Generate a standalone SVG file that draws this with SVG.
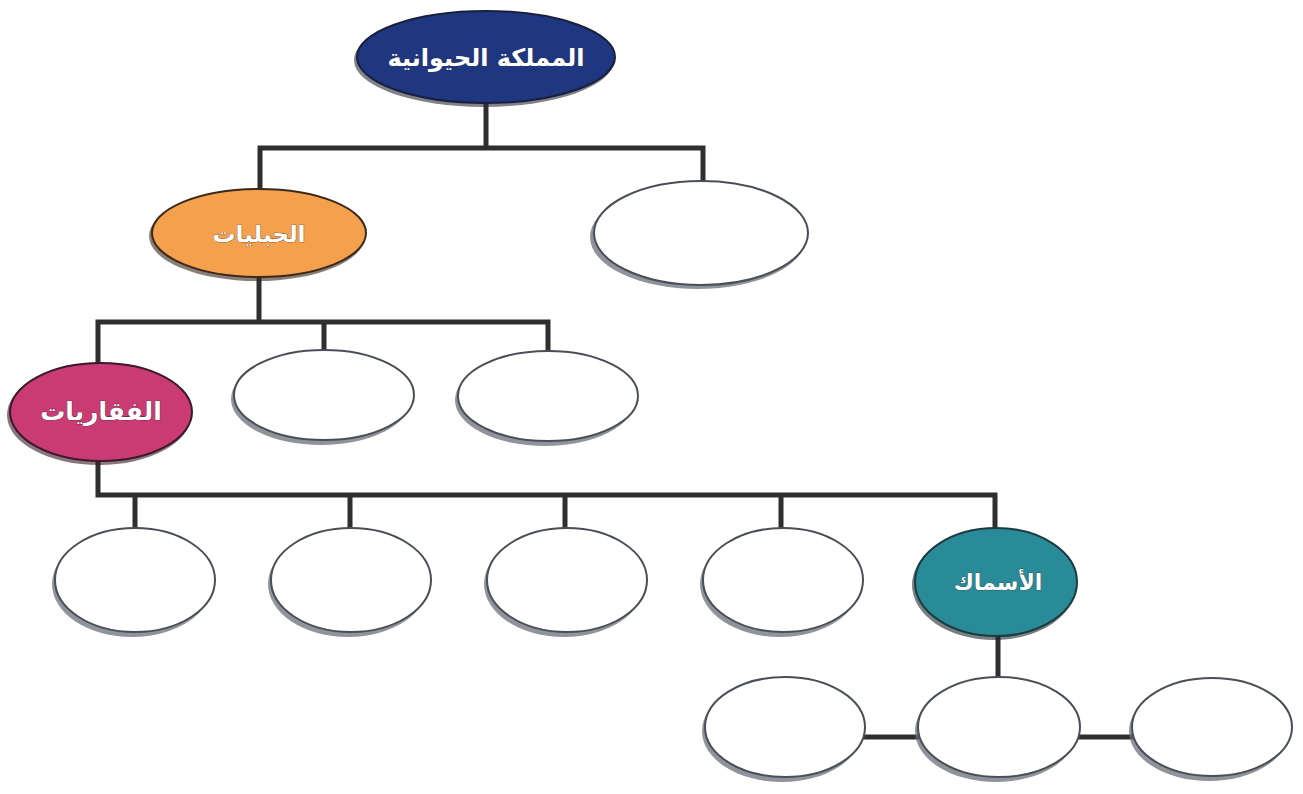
<svg xmlns="http://www.w3.org/2000/svg" width="1303" height="794" viewBox="0 0 1303 794">
<defs>
<style>
.bg{fill:#ffffff}
.conn{stroke:#2f2f2f;stroke-width:5;fill:none;stroke-linecap:square}
.shadow{fill:#6a6f7a;opacity:0.75}
.empty{fill:#ffffff;stroke:#4a4f55;stroke-width:2}
.lbl{font-family:"DejaVu Sans",sans-serif;font-weight:bold;fill:#ffffff;text-anchor:middle;direction:rtl;stroke:#333;stroke-width:0.6;paint-order:stroke}
</style>
</defs>
<rect class="bg" x="0" y="0" width="1303" height="794"/>
<g id="connectors">
<path class="conn" d="M486 104 V148 M260 148 H703 M260 148 V190 M703 148 V181"/>
<path class="conn" d="M259 278 V322 M98 322 H548 M98 322 V364 M324 322 V351 M548 322 V353"/>
<path class="conn" d="M98 462 V495 H995 M135 495 V528 M350 495 V528 M565 495 V528 M781 495 V528 M995 495 V528"/>
<path class="conn" d="M998 636 V677 M865 737 H918 M1080 737 H1133"/>
</g>
<g id="root">
<ellipse cx="484" cy="60" rx="130" ry="47" fill="#2a2f3d" opacity="0.6"/>
<ellipse cx="486" cy="57" rx="129" ry="46" fill="#1f3781" stroke="#1a1f3a" stroke-width="2"/>
<text class="lbl" x="486" y="66" font-size="24">المملكة الحيوانية</text>
</g>
<g id="chordates">
<ellipse cx="257" cy="236" rx="108" ry="45" fill="#3a2a1a" opacity="0.6"/>
<ellipse cx="259" cy="233" rx="107" ry="44" fill="#f4a04c" stroke="#3b2a1c" stroke-width="2"/>
<text class="lbl" x="259" y="242" font-size="23">الحبليات</text>
</g>
<g id="empty-1">
<ellipse class="shadow" cx="698" cy="237" rx="108" ry="52"/>
<ellipse class="empty" cx="701" cy="233" rx="107" ry="52"/>
</g>
<g id="vertebrates">
<ellipse cx="99" cy="415" rx="92" ry="50" fill="#3a1a2a" opacity="0.6"/>
<ellipse cx="101" cy="412" rx="91" ry="49" fill="#c93b72" stroke="#3a1a2a" stroke-width="2"/>
<text class="lbl" x="101" y="420" font-size="25">الفقاريات</text>
</g>
<g id="empty-2">
<ellipse class="shadow" cx="321" cy="399" rx="90" ry="46"/>
<ellipse class="empty" cx="324" cy="395" rx="90" ry="45"/>
</g>
<g id="empty-3">
<ellipse class="shadow" cx="545" cy="400" rx="90" ry="46"/>
<ellipse class="empty" cx="548" cy="396" rx="90" ry="45"/>
</g>
<g id="empty-4">
<ellipse class="shadow" cx="132" cy="584" rx="80" ry="53"/>
<ellipse class="empty" cx="135" cy="580" rx="80" ry="52"/>
</g>
<g id="empty-5">
<ellipse class="shadow" cx="348" cy="584" rx="80" ry="53"/>
<ellipse class="empty" cx="351" cy="580" rx="80" ry="52"/>
</g>
<g id="empty-6">
<ellipse class="shadow" cx="564" cy="584" rx="80" ry="53"/>
<ellipse class="empty" cx="567" cy="580" rx="80" ry="52"/>
</g>
<g id="empty-7">
<ellipse class="shadow" cx="780" cy="584" rx="80" ry="53"/>
<ellipse class="empty" cx="783" cy="580" rx="80" ry="52"/>
</g>
<g id="fish">
<ellipse cx="994" cy="585" rx="82" ry="55" fill="#1a2a30" opacity="0.6"/>
<ellipse cx="996" cy="582" rx="81" ry="54" fill="#2a8b98" stroke="#1d3a40" stroke-width="2"/>
<text class="lbl" x="998" y="590" font-size="22">الأسماك</text>
</g>
<g id="empty-8">
<ellipse class="shadow" cx="782" cy="731" rx="80" ry="51"/>
<ellipse class="empty" cx="785" cy="727" rx="80" ry="50"/>
</g>
<g id="empty-9">
<ellipse class="shadow" cx="996" cy="731" rx="81" ry="51"/>
<ellipse class="empty" cx="999" cy="727" rx="81" ry="50"/>
</g>
<g id="empty-10">
<ellipse class="shadow" cx="1209" cy="731" rx="80" ry="50"/>
<ellipse class="empty" cx="1212" cy="727" rx="80" ry="49"/>
</g>
</svg>
